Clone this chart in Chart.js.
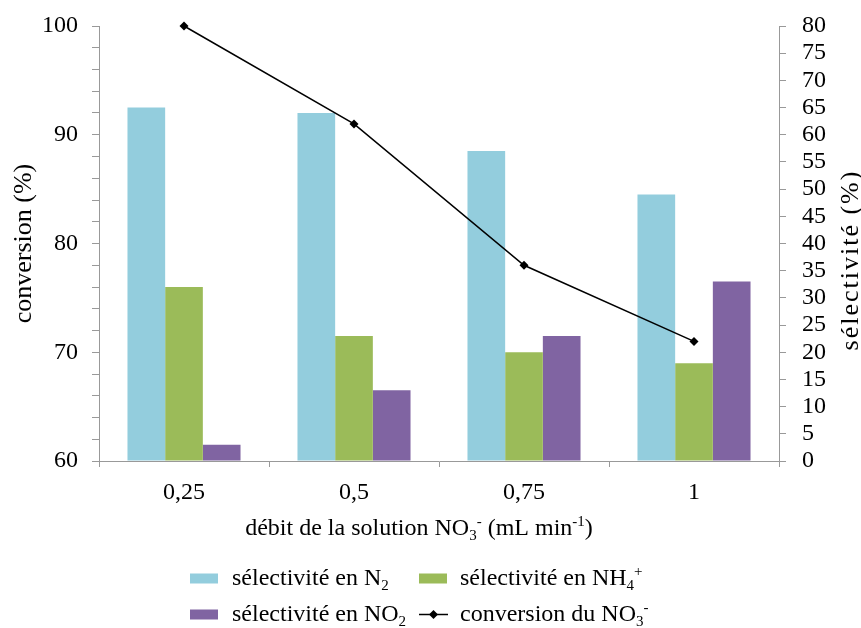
<!DOCTYPE html>
<html>
<head>
<meta charset="utf-8">
<script src="https://cdn.jsdelivr.net/npm/chart.js@4/dist/chart.umd.min.js"></script>
<style>
html,body{margin:0;padding:0;background:#fff;}
canvas{display:block;}
</style>
</head>
<body>
<canvas id="c" width="861" height="628"></canvas>
<script>
// ---- data ----
const categories = ['0,25', '0,5', '0,75', '1'];
const selN2 = [65, 64, 57, 49];
const selNH4 = [32, 23, 20, 18];
const selNO2 = [3, 13, 23, 33];
const conversion = [100, 91, 78, 71];
const seriesLabels = ['sélectivité en N₂', 'sélectivité en NH₄⁺', 'sélectivité en NO₂', 'conversion du NO₃⁻'];
const xTitle = 'débit de la solution NO₃⁻ (mL min⁻¹)';
const yLeftTitle = 'conversion (%)';
const yRightTitle = 'sélectivité (%)';
const convRange = [60, 100];
const selRange = [0, 80];

const FONT = "'Liberation Serif', 'Times New Roman', serif";
const colors = ['#93CDDD', '#9BBB59', '#8064A2', '#000000'];

// rich text: unicode sub/superscripts drawn as small shifted glyphs
function drawRich(ctx, text, x, y, size, align, spacing) {
  const subs = '₀₁₂₃₄₅₆₇₈₉', sups = '⁰¹²³⁴⁵⁶⁷⁸⁹⁺⁻', supPlain = '0123456789+-';
  const segs = [];
  for (const ch of text) {
    let type = 'n', c = ch;
    if (subs.includes(ch)) { type = 'sub'; c = String(subs.indexOf(ch)); }
    else if (sups.includes(ch)) { type = 'sup'; c = supPlain[sups.indexOf(ch)]; }
    if (segs.length && segs[segs.length - 1].type === type) segs[segs.length - 1].t += c;
    else segs.push({type, t: c});
  }
  const hasLS = ('letterSpacing' in ctx);
  const small = Math.round(size * 0.63);
  let total = 0;
  segs.forEach(s => {
    if (hasLS) ctx.letterSpacing = '0px';
    ctx.font = (s.type === 'n' ? size : small) + 'px ' + FONT;
    s.w = ctx.measureText(s.t).width + (hasLS ? (spacing || 0) * [...s.t].length : 0);
    total += s.w;
  });
  let cx = align === 'center' ? x - total / 2 : x;
  ctx.textAlign = 'left';
  ctx.textBaseline = 'alphabetic';
  if (hasLS) ctx.letterSpacing = (spacing || 0) + 'px';
  segs.forEach(s => {
    ctx.font = (s.type === 'n' ? size : small) + 'px ' + FONT;
    const dy = s.type === 'sub' ? size * 0.22 : s.type === 'sup' ? -size * 0.36 : 0;
    ctx.fillText(s.t, cx, y + dy);
    cx += s.w;
  });
  if (hasLS) ctx.letterSpacing = '0px';
  return total;
}

const customDraw = {
  id: 'customDraw',
  afterDraw(chart) {
    const ctx = chart.ctx;
    ctx.save();
    ctx.fillStyle = '#000';
    // x axis title
    drawRich(ctx, xTitle, 419, 535, 24, 'center');
    // right axis title (reads bottom-to-top)
    ctx.save();
    ctx.translate(858, 260);
    ctx.rotate(-Math.PI / 2);
    drawRich(ctx, yRightTitle, 0, 0, 26, 'center', 2);
    ctx.restore();
    // legend
    const items = [
      {col: 0, row: 0, ds: 0}, {col: 1, row: 0, ds: 1},
      {col: 0, row: 1, ds: 2}, {col: 1, row: 1, ds: 3}
    ];
    const colX = [190, 419];
    const textX = [232, 460];
    const rowBase = [585, 621];
    items.forEach(it => {
      const ds = chart.data.datasets[it.ds];
      const bx = colX[it.col], cy = rowBase[it.row] - 6.5;
      if (ds.type === 'line') {
        ctx.strokeStyle = '#000';
        ctx.lineWidth = 1.5;
        ctx.beginPath();
        ctx.moveTo(bx, cy); ctx.lineTo(bx + 29, cy); ctx.stroke();
        ctx.beginPath();
        const r = 4.5, mx = bx + 14.5;
        ctx.moveTo(mx, cy - r); ctx.lineTo(mx + r, cy); ctx.lineTo(mx, cy + r); ctx.lineTo(mx - r, cy);
        ctx.closePath();
        ctx.fillStyle = '#000'; ctx.fill();
      } else {
        ctx.fillStyle = ds.backgroundColor;
        ctx.fillRect(bx, cy - 5, 28, 10);
      }
      ctx.fillStyle = '#000';
      drawRich(ctx, ds.label, textX[it.col], rowBase[it.row], 24, 'left');
    });
    ctx.restore();
  }
};

function noPad(s) { s.paddingTop = 0; s.paddingBottom = 0; }

new Chart(document.getElementById('c'), {
  data: {
    labels: categories,
    datasets: [
      {type: 'bar', label: seriesLabels[0], data: selN2, backgroundColor: colors[0], yAxisID: 'y1', order: 1},
      {type: 'bar', label: seriesLabels[1], data: selNH4, backgroundColor: colors[1], yAxisID: 'y1', order: 1},
      {type: 'bar', label: seriesLabels[2], data: selNO2, backgroundColor: colors[2], yAxisID: 'y1', order: 1},
      {type: 'line', label: seriesLabels[3], data: conversion, yAxisID: 'y', order: 0, clip: false,
       borderColor: '#000', backgroundColor: '#000', borderWidth: 1.5, tension: 0,
       pointStyle: 'rectRot', pointRadius: 4.5, pointBackgroundColor: '#000', pointBorderColor: '#000', pointBorderWidth: 0}
    ]
  },
  options: {
    responsive: false,
    animation: false,
    layout: {padding: {top: 26, bottom: 67, left: 0, right: 0}},
    datasets: {bar: {categoryPercentage: 0.665, barPercentage: 1.0, borderWidth: 0}},
    plugins: {legend: {display: false}, tooltip: {enabled: false}},
    scales: {
      x: {
        position: 'bottom',
        grid: {drawOnChartArea: false, drawTicks: true, tickLength: 6, color: '#999', offset: true},
        border: {color: '#999', width: 1},
        ticks: {font: {family: FONT, size: 24}, color: '#000', padding: 11, maxRotation: 0},
        afterFit(s) { s.height = 100; }
      },
      y: {
        position: 'left',
        min: convRange[0], max: convRange[1],
        grid: {drawOnChartArea: false, drawTicks: true, tickLength: 7, color: '#999'},
        border: {color: '#999', width: 1},
        ticks: {stepSize: 2, autoSkip: false, font: {family: FONT, size: 24}, color: '#000', padding: 14,
                callback: v => (v % 10 === 0 ? String(v) : '')},
        title: {display: true, text: yLeftTitle, font: {family: FONT, size: 26}, color: '#000', padding: {top: 9, bottom: 0}},
        afterFit(s) { s.width = 99; noPad(s); }
      },
      y1: {
        position: 'right',
        min: selRange[0], max: selRange[1],
        grid: {drawOnChartArea: false, drawTicks: true, tickLength: 7, color: '#999'},
        border: {color: '#999', width: 1},
        ticks: {stepSize: 5, autoSkip: false, font: {family: FONT, size: 24}, color: '#000', padding: 16},
        afterFit(s) { s.width = 82; noPad(s); }
      }
    }
  },
  plugins: [customDraw]
});
</script>
</body>
</html>
